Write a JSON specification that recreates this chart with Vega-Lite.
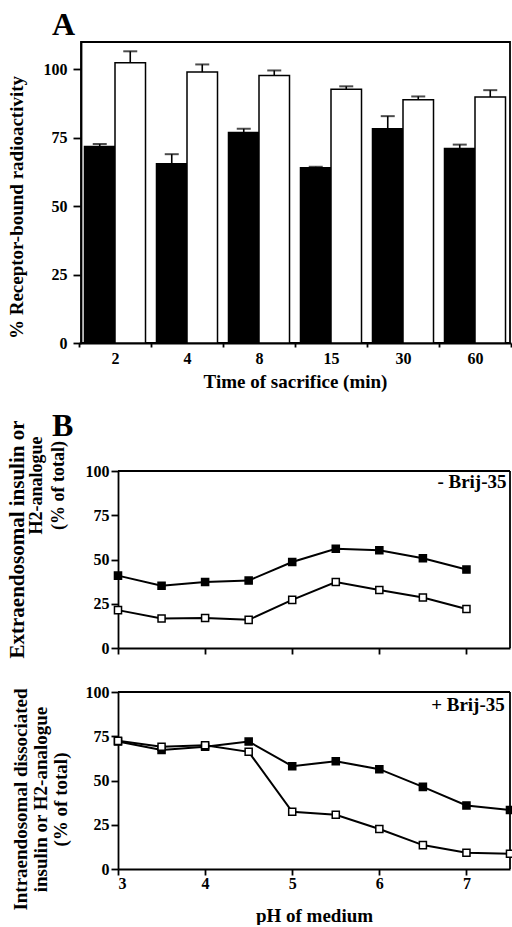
{
  "$schema": "https://vega.github.io/schema/vega-lite/v6.json",
  "background": "white",
  "padding": {"left": 6, "top": 8, "right": 0, "bottom": 0},
  "spacing": 18,
  "datasets": {
    "timecourse": [
      {"time": "2", "agent": "insulin", "value": 71.8, "upper": 72.7},
      {"time": "2", "agent": "H2-analogue", "value": 102.4, "upper": 106.6},
      {"time": "4", "agent": "insulin", "value": 65.5, "upper": 69.0},
      {"time": "4", "agent": "H2-analogue", "value": 99.0, "upper": 101.8},
      {"time": "8", "agent": "insulin", "value": 76.9, "upper": 78.3},
      {"time": "8", "agent": "H2-analogue", "value": 97.8, "upper": 99.6},
      {"time": "15", "agent": "insulin", "value": 64.0, "upper": 64.4},
      {"time": "15", "agent": "H2-analogue", "value": 92.7, "upper": 93.8},
      {"time": "30", "agent": "insulin", "value": 78.3, "upper": 82.9},
      {"time": "30", "agent": "H2-analogue", "value": 88.9, "upper": 90.1},
      {"time": "60", "agent": "insulin", "value": 71.1, "upper": 72.5},
      {"time": "60", "agent": "H2-analogue", "value": 89.9, "upper": 92.4}
    ],
    "without_brij": [
      {"ph": 3, "agent": "insulin", "value": 40.9},
      {"ph": 3.5, "agent": "insulin", "value": 35.2},
      {"ph": 4, "agent": "insulin", "value": 37.3},
      {"ph": 4.5, "agent": "insulin", "value": 38.1},
      {"ph": 5, "agent": "insulin", "value": 48.6},
      {"ph": 5.5, "agent": "insulin", "value": 56.1},
      {"ph": 6, "agent": "insulin", "value": 55.2},
      {"ph": 6.5, "agent": "insulin", "value": 50.7},
      {"ph": 7, "agent": "insulin", "value": 44.3},
      {"ph": 3, "agent": "H2-analogue", "value": 21.4},
      {"ph": 3.5, "agent": "H2-analogue", "value": 16.7},
      {"ph": 4, "agent": "H2-analogue", "value": 16.9},
      {"ph": 4.5, "agent": "H2-analogue", "value": 15.9},
      {"ph": 5, "agent": "H2-analogue", "value": 27.2},
      {"ph": 5.5, "agent": "H2-analogue", "value": 37.3},
      {"ph": 6, "agent": "H2-analogue", "value": 32.8},
      {"ph": 6.5, "agent": "H2-analogue", "value": 28.5},
      {"ph": 7, "agent": "H2-analogue", "value": 22.0}
    ],
    "with_brij": [
      {"ph": 3, "agent": "insulin", "value": 72.0},
      {"ph": 3.5, "agent": "insulin", "value": 67.3},
      {"ph": 4, "agent": "insulin", "value": 69.1},
      {"ph": 4.5, "agent": "insulin", "value": 72.0},
      {"ph": 5, "agent": "insulin", "value": 58.1},
      {"ph": 5.5, "agent": "insulin", "value": 60.9},
      {"ph": 6, "agent": "insulin", "value": 56.4},
      {"ph": 6.5, "agent": "insulin", "value": 46.4},
      {"ph": 7, "agent": "insulin", "value": 35.9},
      {"ph": 7.5, "agent": "insulin", "value": 33.3},
      {"ph": 3, "agent": "H2-analogue", "value": 72.4},
      {"ph": 3.5, "agent": "H2-analogue", "value": 69.1},
      {"ph": 4, "agent": "H2-analogue", "value": 69.9},
      {"ph": 4.5, "agent": "H2-analogue", "value": 66.2},
      {"ph": 5, "agent": "H2-analogue", "value": 32.3},
      {"ph": 5.5, "agent": "H2-analogue", "value": 30.6},
      {"ph": 6, "agent": "H2-analogue", "value": 22.6},
      {"ph": 6.5, "agent": "H2-analogue", "value": 13.5},
      {"ph": 7, "agent": "H2-analogue", "value": 9.2},
      {"ph": 7.5, "agent": "H2-analogue", "value": 8.6}
    ]
  },
  "vconcat": [
    {
      "width": 429,
      "height": 301,
      "title": {"text": "A", "fontSize": 32, "anchor": "start", "frame": "group", "dx": -29, "offset": 0},
      "view": {"stroke": "#000", "strokeWidth": 1.8},
      "data": {"name": "timecourse"},
      "encoding": {
        "x": {
          "field": "time", "type": "nominal", "sort": ["2", "4", "8", "15", "30", "60"],
          "scale": {"range": [-2, 430], "paddingInner": 0, "paddingOuter": 0},
          "axis": {"tickBand": "extent", "labelAngle": 0, "tickSize": 4, "labelPadding": 3,
                   "title": "Time of sacrifice (min)", "titleFontSize": 19, "titlePadding": 6}
        },
        "xOffset": {
          "field": "agent", "type": "nominal", "sort": ["insulin", "H2-analogue"],
          "scale": {"paddingInner": 0, "paddingOuter": 0.18}
        }
      },
      "layer": [
        {
          "mark": {"type": "bar", "stroke": "#000", "strokeWidth": 1.5},
          "encoding": {
            "y": {
              "field": "value", "type": "quantitative",
              "scale": {"domain": [0, 110], "nice": false},
              "axis": {
                "values": [0, 12.5, 25, 37.5, 50, 62.5, 75, 87.5, 100],
                "labelExpr": "datum.value % 25 === 0 ? datum.label : ''",
                "tickSize": {"condition": {"test": "datum.value % 25 !== 0", "value": 3}, "value": 8},
                "labelPadding": 6,
                "title": "% Receptor-bound radioactivity", "titleFontSize": 19,
                "titleX": -55, "titleY": 165
              }
            },
            "fill": {"field": "agent", "type": "nominal",
                     "scale": {"domain": ["insulin", "H2-analogue"], "range": ["#000", "#fff"]},
                     "legend": null}
          }
        },
        {
          "mark": {"type": "rule", "color": "#000", "strokeWidth": 1.6},
          "encoding": {
            "y": {"field": "value", "type": "quantitative"},
            "y2": {"field": "upper"}
          }
        },
        {
          "mark": {"type": "tick", "color": "#000", "thickness": 2},
          "encoding": {
            "y": {"field": "upper", "type": "quantitative"},
            "size": {"value": 14}
          }
        }
      ]
    },
    {
      "title": {"text": "B", "fontSize": 32, "anchor": "start", "frame": "group", "dx": -29, "offset": -23},
      "spacing": 25,
      "vconcat": [
        {
          "width": 429,
          "height": 177,
          "title": {"text": "Extraendosomal insulin or", "orient": "left", "fontSize": 21,
                    "anchor": "middle", "frame": "group", "offset": -1, "dx": 20},
          "layer": [
            {
              "data": {"values": [{}]},
              "mark": {"type": "rule", "color": "#000", "strokeWidth": 1.8},
              "encoding": {"x": {"datum": 3}, "x2": {"datum": 7.5}, "y": {"datum": 100}}
            },
            {
              "data": {"values": [{}]},
              "mark": {"type": "rule", "color": "#000", "strokeWidth": 1.8},
              "encoding": {"x": {"datum": 7.5}, "y": {"datum": 0}, "y2": {"datum": 100}}
            },
            {
              "data": {"name": "without_brij"},
              "mark": {"type": "line", "color": "#000", "strokeWidth": 2},
              "encoding": {
                "x": {
                  "field": "ph", "type": "quantitative",
                  "scale": {"domain": [3, 7.5], "range": [37, 429], "nice": false, "zero": false},
                  "axis": {"values": [3, 4, 5, 6, 7], "labels": false, "tickSize": 6, "title": null}
                },
                "y": {
                  "field": "value", "type": "quantitative",
                  "scale": {"domain": [0, 100], "nice": false},
                  "axis": {
                    "values": [0, 25, 50, 75, 100], "offset": -37, "tickSize": 7, "labelPadding": 2,
                    "title": ["H2-analogue", "(% of total)"], "titleFontSize": 18, "titleLineHeight": 22,
                    "titleX": -73, "titleY": 14
                  }
                },
                "detail": {"field": "agent"}
              }
            },
            {
              "data": {"name": "without_brij"},
              "mark": {"type": "point", "shape": "square", "filled": true, "size": 50,
                       "stroke": "#000", "strokeWidth": 1.5, "opacity": 1},
              "encoding": {
                "x": {"field": "ph", "type": "quantitative"},
                "y": {"field": "value", "type": "quantitative"},
                "fill": {"field": "agent", "type": "nominal",
                         "scale": {"domain": ["insulin", "H2-analogue"], "range": ["#000", "#fff"]},
                         "legend": null}
              }
            },
            {
              "data": {"values": [{"label": "- Brij-35"}]},
              "mark": {"type": "text", "align": "right", "baseline": "alphabetic",
                       "font": "Liberation Serif", "fontWeight": "bold", "fontSize": 19, "color": "#000"},
              "encoding": {"text": {"field": "label"}, "x": {"datum": 7.46}, "y": {"datum": 90.6}}
            }
          ]
        },
        {
          "width": 429,
          "height": 177,
          "layer": [
            {
              "data": {"values": [{}]},
              "mark": {"type": "rule", "color": "#000", "strokeWidth": 1.8},
              "encoding": {"x": {"datum": 3}, "x2": {"datum": 7.5}, "y": {"datum": 100}}
            },
            {
              "data": {"values": [{}]},
              "mark": {"type": "rule", "color": "#000", "strokeWidth": 1.8},
              "encoding": {"x": {"datum": 7.5}, "y": {"datum": 0}, "y2": {"datum": 100}}
            },
            {
              "data": {"name": "with_brij"},
              "mark": {"type": "line", "color": "#000", "strokeWidth": 2},
              "encoding": {
                "x": {
                  "field": "ph", "type": "quantitative",
                  "scale": {"domain": [3, 7.5], "range": [37, 429], "nice": false, "zero": false},
                  "axis": {"values": [3, 4, 5, 6, 7], "format": "d", "tickSize": 6, "labelPadding": 0,
                           "title": "pH of medium", "titleFontSize": 19, "titlePadding": 15}
                },
                "y": {
                  "field": "value", "type": "quantitative",
                  "scale": {"domain": [0, 100], "nice": false},
                  "axis": {
                    "values": [0, 25, 50, 75, 100], "offset": -37, "tickSize": 7, "labelPadding": 2,
                    "title": ["Intraendosomal dissociated", "insulin or H2-analogue", "(% of total)"],
                    "titleFontSize": 19, "titleLineHeight": 20,
                    "titleX": -88, "titleY": 107
                  }
                },
                "detail": {"field": "agent"}
              }
            },
            {
              "data": {"name": "with_brij"},
              "mark": {"type": "point", "shape": "square", "filled": true, "size": 50,
                       "stroke": "#000", "strokeWidth": 1.5, "opacity": 1},
              "encoding": {
                "x": {"field": "ph", "type": "quantitative"},
                "y": {"field": "value", "type": "quantitative"},
                "fill": {"field": "agent", "type": "nominal",
                         "scale": {"domain": ["insulin", "H2-analogue"], "range": ["#000", "#fff"]},
                         "legend": null}
              }
            },
            {
              "data": {"values": [{"label": "+ Brij-35"}]},
              "mark": {"type": "text", "align": "right", "baseline": "alphabetic",
                       "font": "Liberation Serif", "fontWeight": "bold", "fontSize": 19, "color": "#000"},
              "encoding": {"text": {"field": "label"}, "x": {"datum": 7.44}, "y": {"datum": 89.3}}
            }
          ]
        }
      ]
    }
  ],
  "config": {
    "font": "Liberation Serif",
    "view": {"stroke": null},
    "axis": {
      "grid": false,
      "labelFont": "Liberation Serif", "labelFontWeight": "bold", "labelFontSize": 16, "labelColor": "#000",
      "titleFont": "Liberation Serif", "titleFontWeight": "bold", "titleColor": "#000",
      "domainColor": "#000", "domainWidth": 1.8, "tickColor": "#000", "tickWidth": 1.8
    },
    "title": {"font": "Liberation Serif", "fontWeight": "bold", "color": "#000"}
  }
}
